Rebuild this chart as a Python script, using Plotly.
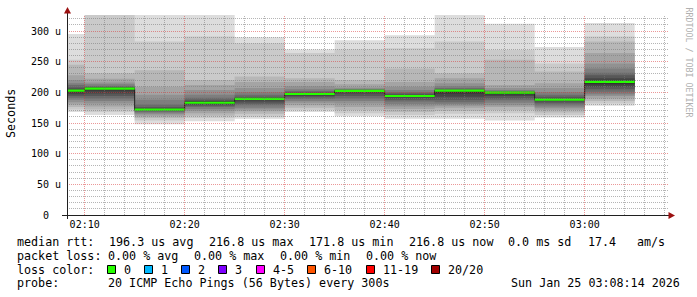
import plotly.graph_objects as go
from datetime import datetime, timedelta

# ---------------- data ----------------
block_start = ["2026-01-25 02:05:00", "2026-01-25 02:10:00", "2026-01-25 02:15:00",
               "2026-01-25 02:20:00", "2026-01-25 02:25:00", "2026-01-25 02:30:00",
               "2026-01-25 02:35:00", "2026-01-25 02:40:00", "2026-01-25 02:45:00",
               "2026-01-25 02:50:00", "2026-01-25 02:55:00", "2026-01-25 03:00:00"]
block_end = "2026-01-25 03:05:00"

# median rtt per 5-minute step (microseconds)
median_rtt = [202.7, 206.0, 171.7, 183.0, 189.5, 197.3, 202.5, 194.0, 202.7, 199.4, 188.0, 217.0]

# sorted ping values, upper half (outermost -> innermost), per step
ping_hi = [
    [295, 253, 245, 228, 220, 215, 212, 208, 206, 204],
    [340, 340, 231, 222, 216, 213, 210, 209, 208, 207],
    [340, 283, 236, 209, 196, 188, 180, 176, 174, 172.5],
    [340, 291, 220, 212, 204, 196, 191, 188, 186, 184.5],
    [290, 280, 226, 217, 207, 200, 196, 193, 191, 190],
    [270, 264, 223, 217, 210, 205, 202, 200, 199, 198],
    [285, 270, 220, 213, 208, 206, 205, 204, 203.5, 203],
    [293, 272, 239, 217, 209, 204, 200, 198, 196, 195],
    [340, 283, 231, 223, 215, 210, 207, 205, 204, 203.5],
    [312, 269, 253, 212, 207, 204, 202, 201, 200.5, 200],
    [274, 247, 234, 215, 207, 200, 196, 193, 190, 189],
    [313, 291, 283, 264, 247, 239, 232, 228, 223, 219],
]
# sorted ping values, lower half (outermost -> innermost), per step
ping_lo = [
    [168, 172, 176, 180, 184, 188, 191, 194, 197, 200],
    [163, 168, 172, 177, 182, 186, 190, 194, 198, 203],
    [148, 154, 158, 161, 164, 166, 168, 169.5, 170.5, 171],
    [153, 158, 162, 166, 170, 173, 176, 178, 180, 182],
    [157, 160, 165, 169, 172, 175, 179, 182, 185, 187.5],
    [168, 171, 175, 179, 183, 186, 189, 192, 194, 196],
    [161, 166, 171, 176, 182, 186, 190, 194, 198, 201],
    [157, 163, 168, 173, 177, 181, 185, 188, 191, 193],
    [157, 165, 170, 175, 178, 181, 184, 188, 193, 198],
    [154, 166, 171, 176, 179, 183, 187, 190, 194, 197],
    [159, 163, 167, 171, 174, 177, 180, 183, 185.5, 187],
    [178, 182, 186, 190, 194, 197, 201, 205, 209, 213],
]

y_tick_vals = [0, 50, 100, 150, 200, 250, 300]
y_tick_text = ["0\u00a0\u00a0", "50 u", "100 u", "150 u", "200 u", "250 u", "300 u"]

legend_rtt = [("median rtt:", 16), ("196.3 us avg", 107.5), ("216.8 us max", 207.7),
              ("171.8 us min", 307.7), ("216.8 us now", 408), ("0.0 ms sd", 507),
              ("17.4", 587), ("am/s", 636)]
legend_loss = [("packet loss:", 16), ("0.00 % avg", 107.3), ("0.00 % max", 193.3),
               ("0.00 % min", 279.3), ("0.00 % now", 365)]
loss_labels = ["0", "1", "2", "3", "4-5", "6-10", "11-19", "20/20"]
loss_colors = ["#26ff00", "#00b8ff", "#0059ff", "#7e00ff", "#ff00ff", "#ff5500", "#ff0000", "#a10000"]
loss_x = [107.3, 144.3, 181.3, 218.3, 255.7, 307.3, 365.7, 430.7]
probe_text = "20 ICMP Echo Pings (56 Bytes) every 300s"
stamp_text = "Sun Jan 25 03:08:14 2026"

# ---------------- geometry ----------------
W, H = 697, 297
PL, PR, PT, PB = 67, 667, 15, 215
T0 = datetime(2026, 1, 25, 2, 8, 14)
T1 = datetime(2026, 1, 25, 3, 8, 14)
YMAX = 326.1

def px(x):
    return (x - PL) / (PR - PL)

def py(y):
    return (PB - y) / (PB - PT)

def crisp_x_of_time(t):
    pix = PL + (t - T0).total_seconds() / (T1 - T0).total_seconds() * (PR - PL)
    return px(int(pix) + 0.5)

def crisp_y_of_val(v):
    pix = PB - v / YMAX * (PB - PT)
    return py(round(pix - 0.5) + 0.5)

MONO = "DejaVu Sans Mono"

fig = go.Figure()

xs = block_start + [block_end]

# smoke layers
n_layers = 10
for i in range(n_layers):
    g = int(190 / 10 * (10 - (i + 1))) + 50
    col = "rgb(%d,%d,%d)" % (g, g, g)
    lo = [b[i] for b in ping_lo]
    hi = [b[i] for b in ping_hi]
    fig.add_trace(go.Scatter(x=xs, y=lo + [lo[-1]], mode="lines", line=dict(width=0, shape="hv"),
                             showlegend=False, hoverinfo="skip"))
    fig.add_trace(go.Scatter(x=xs, y=hi + [hi[-1]], mode="lines", line=dict(width=0, shape="hv"),
                             fill="tonexty", fillcolor=col, showlegend=False, hoverinfo="skip"))

# median connector line
fig.add_trace(go.Scatter(x=xs, y=median_rtt + [median_rtt[-1]], mode="lines",
                         line=dict(width=1, color="#202020", shape="hv"),
                         showlegend=False, hoverinfo="skip"))
# loss-coloured median segments
gx, gy = [], []
for k in range(len(median_rtt)):
    gx += [xs[k], xs[k + 1], None]
    gy += [median_rtt[k], median_rtt[k], None]
fig.add_trace(go.Scatter(x=gx, y=gy, mode="lines", line=dict(width=2.2, color=loss_colors[0]),
                         showlegend=False, hoverinfo="skip", connectgaps=False))

GRID = "rgba(120,120,120,0.55)"
MGRID = "rgba(215,50,50,0.5)"
shapes = []
# grid (drawn above smoke like rrdtool)
t = datetime(2026, 1, 25, 2, 10)
while t <= T1:
    major = (t.minute % 10 == 0)
    xp = crisp_x_of_time(t)
    shapes.append(dict(type="line", xref="paper", yref="paper", x0=xp, x1=xp, y0=0, y1=1, layer="above",
                       line=dict(width=1, dash="1px,1px", color=MGRID if major else GRID)))
    t += timedelta(minutes=2)
for v in range(10, 330, 10):
    major = (v % 50 == 0)
    yp = crisp_y_of_val(v)
    shapes.append(dict(type="line", xref="paper", yref="paper", x0=0, x1=px(668), y0=yp, y1=yp, layer="above",
                       line=dict(width=1, dash="1px,1px", color=MGRID if major else GRID)))

# axes with arrows
AX = "#202020"
AR = "#9b1010"
shapes.append(dict(type="line", xref="paper", yref="paper", x0=px(62), x1=px(669), y0=py(215.5), y1=py(215.5),
                   layer="above", line=dict(width=1, color=AX)))
shapes.append(dict(type="line", xref="paper", yref="paper", x0=px(67.5), x1=px(67.5), y0=py(219), y1=py(12),
                   layer="above", line=dict(width=1, color=AX)))
shapes.append(dict(type="path", xref="paper", yref="paper", layer="above",
                   path="M %f,%f L %f,%f L %f,%f Z" % (px(668.5), py(212), px(675), py(215.5), px(668.5), py(219)),
                   fillcolor=AR, line=dict(width=0)))
shapes.append(dict(type="path", xref="paper", yref="paper", layer="above",
                   path="M %f,%f L %f,%f L %f,%f Z" % (px(64), py(13.5), px(67.5), py(7), px(71), py(13.5)),
                   fillcolor=AR, line=dict(width=0)))

# legend squares
for xl, c in zip(loss_x, loss_colors):
    shapes.append(dict(type="rect", xref="paper", yref="paper",
                       x0=px(round(xl) + 0.5), x1=px(round(xl) + 8.5), y0=py(273.5), y1=py(265.5),
                       fillcolor=c, line=dict(width=1, color="#000000")))

ann = []
def text(s, x, y, size=11.7, anchor="left", color="#000000", font=MONO, angle=0):
    ann.append(dict(text=s, xref="paper", yref="paper", x=px(x), y=py(y), xanchor=anchor,
                    yanchor="middle", showarrow=False, borderpad=0, textangle=angle,
                    font=dict(family=font, size=size, color=color)))

for s, x in legend_rtt:
    text(s, x, 241.5)
for s, x in legend_loss:
    text(s, x, 255.5)
text("loss color:", 16, 269.5)
for xl, lab in zip(loss_x, loss_labels):
    text(lab, xl + 16, 269.5)
text("probe:", 16, 283)
text(probe_text, 107.3, 283)
text(stamp_text, 681, 283, anchor="right")

# y axis title
ann.append(dict(text="Seconds", xref="paper", yref="paper", x=px(11), y=py(114), xanchor="center",
                yanchor="middle", showarrow=False, textangle=-90,
                font=dict(family=MONO, size=11.7, color="#000000")))
# watermark
ann.append(dict(text="RRDTOOL / TOBI OETIKER", xref="paper", yref="paper", x=px(688.5), y=py(5),
                xanchor="center", yanchor="top", showarrow=False, textangle=90,
                font=dict(family=MONO, size=8.3, color="#b0b0b0")))

fig.update_layout(
    width=W, height=H,
    margin=dict(l=PL, r=W - PR, t=PT, b=H - PB, pad=0),
    paper_bgcolor="#ffffff", plot_bgcolor="#ffffff",
    showlegend=False,
    shapes=shapes, annotations=ann,
    xaxis=dict(type="date", range=[T0, T1], showgrid=False, zeroline=False, showline=False,
               tick0="2026-01-25 02:10:00", dtick=600000, tickformat="%H:%M",
               ticks="", tickfont=dict(family=MONO, size=10, color="#000000"),
               ticklabelstandoff=2),
    yaxis=dict(range=[0, YMAX], showgrid=False, zeroline=False, showline=False,
               tickmode="array", tickvals=y_tick_vals, ticktext=y_tick_text,
               ticks="", tickfont=dict(family=MONO, size=10, color="#000000"),
               ticklabelstandoff=5),
)

fig.write_html("out.html")
